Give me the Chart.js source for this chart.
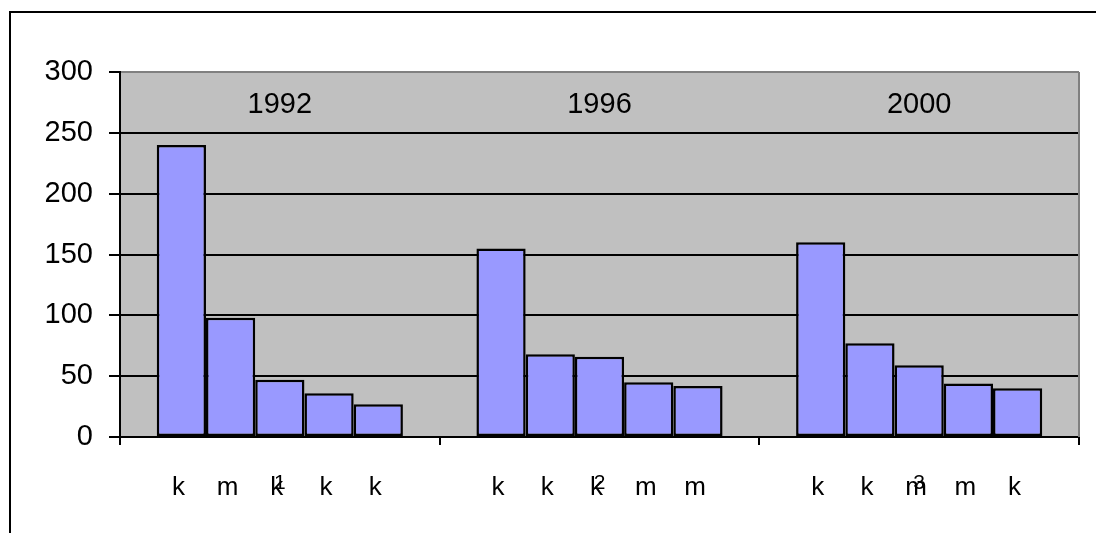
<!DOCTYPE html>
<html>
<head>
<meta charset="utf-8">
<script src="https://cdn.jsdelivr.net/npm/chart.js@4/dist/chart.umd.min.js"></script>
<style>
  html, body { margin: 0; padding: 0; background: #fff; overflow: hidden; }
  canvas { display: block; }
</style>
</head>
<body>
<canvas id="chart" width="1096" height="533"></canvas>
<script>
// Excel-style grouped column chart

const groupLabels = ['1', '2', '3'];
const yearLabels = ['1992', '1996', '2000'];
const subLabels = [
    ['k', 'm', 'k', 'k', 'k'],
    ['k', 'k', 'k', 'm', 'm'],
    ['k', 'k', 'm', 'm', 'k']
];

// one array per bar position inside a group
const bar1 = [240, 155, 160];
const bar2 = [98, 68, 77];
const bar3 = [47, 66, 59];
const bar4 = [36, 45, 44];
const bar5 = [27, 42, 40];

const yTicks = [0, 50, 100, 150, 200, 250, 300];

const FONT = "'Liberation Sans', Arial, sans-serif";

// outer frame, gray plot area + gray right border
const plotArea = {
    id: 'plotArea',
    beforeDraw(chart) {
        const a = chart.chartArea;
        const ctx = chart.ctx;
        ctx.save();
        ctx.fillStyle = '#c0c0c0';
        ctx.fillRect(a.left, a.top, a.right - a.left, a.bottom - a.top);
        // chart frame (only top and left edges are in view)
        ctx.strokeStyle = '#000';
        ctx.lineWidth = 2;
        ctx.beginPath();
        ctx.moveTo(10, chart.height);
        ctx.lineTo(10, 12);
        ctx.lineTo(chart.width, 12);
        ctx.stroke();
        ctx.restore();
    },
    afterDraw(chart) {
        const a = chart.chartArea;
        const ctx = chart.ctx;
        ctx.save();
        ctx.strokeStyle = '#808080';
        ctx.lineWidth = 2;
        ctx.beginPath();
        ctx.moveTo(a.right, a.top);
        ctx.lineTo(a.right, a.bottom);
        ctx.stroke();
        ctx.restore();
    }
};

// year titles inside the plot and the k/m labels under each bar
const extraLabels = {
    id: 'extraLabels',
    afterDatasetsDraw(chart) {
        const ctx = chart.ctx;
        const x = chart.scales.x;
        ctx.save();
        ctx.fillStyle = '#000';
        ctx.textAlign = 'center';
        ctx.textBaseline = 'alphabetic';

        ctx.font = '29px ' + FONT;
        yearLabels.forEach((t, i) => {
            ctx.fillText(t, x.getPixelForValue(i), 113);
        });

        ctx.font = '26px ' + FONT;
        chart.data.datasets.forEach((ds, j) => {
            const meta = chart.getDatasetMeta(j);
            meta.data.forEach((bar, i) => {
                ctx.fillText(subLabels[i][j], bar.x - 3, 495);
            });
        });
        ctx.restore();
    }
};

const barStyle = {
    backgroundColor: '#9999ff',
    borderColor: '#000',
    borderWidth: 2.5,
    borderSkipped: false,
    barPercentage: 1.0,
    categoryPercentage: 0.77
};

new Chart(document.getElementById('chart'), {
    type: 'bar',
    data: {
        labels: groupLabels,
        datasets: [
            Object.assign({ data: bar1 }, barStyle),
            Object.assign({ data: bar2 }, barStyle),
            Object.assign({ data: bar3 }, barStyle),
            Object.assign({ data: bar4 }, barStyle),
            Object.assign({ data: bar5 }, barStyle)
        ]
    },
    options: {
        responsive: false,
        animation: false,
        layout: {
            padding: { left: 0, right: 17, top: 72, bottom: 0 }
        },
        plugins: {
            legend: { display: false },
            tooltip: { enabled: false }
        },
        scales: {
            x: {
                offset: true,
                grid: {
                    offset: true,
                    drawOnChartArea: false,
                    color: '#000',
                    lineWidth: 2,
                    tickLength: 8
                },
                border: { color: '#000', width: 2 },
                ticks: {
                    color: '#000',
                    padding: 26,
                    font: { family: FONT, size: 21 }
                },
                afterFit(scale) { scale.height = 96; }
            },
            y: {
                min: 0,
                max: 300,
                afterBuildTicks(scale) {
                    scale.ticks = yTicks.map(v => ({ value: v }));
                },
                grid: {
                    color: (c) => (c.tick && c.tick.value === 300 ? '#808080' : '#000'),
                    tickColor: '#000',
                    lineWidth: 2,
                    tickLength: 11
                },
                border: { color: '#000', width: 2 },
                ticks: {
                    color: '#000',
                    padding: 16,
                    font: { family: FONT, size: 29 }
                },
                afterFit(scale) { scale.width = 120; }
            }
        }
    },
    plugins: [plotArea, extraLabels]
});
</script>
</body>
</html>
